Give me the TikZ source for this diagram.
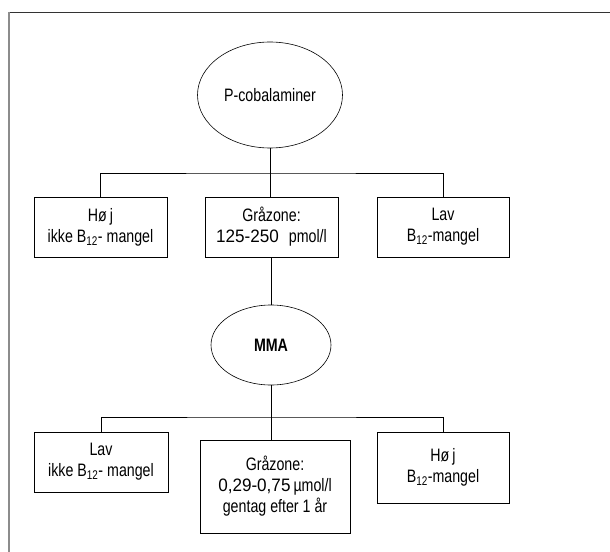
\documentclass[tikz,border=0pt]{standalone}
\usepackage{fontspec}
\setmainfont{Liberation Sans}[FakeStretch=0.79]
\newfontfamily\numfont{Liberation Sans}[FakeStretch=0.95]
\usetikzlibrary{shapes.geometric}
\begin{document}
\begin{tikzpicture}[x=1bp,y=-1bp,
  every node/.style={font=\fontsize{18bp}{21bp}\selectfont, inner sep=0pt, align=center},
  oval/.style={draw, ellipse, line width=0.6pt},
  box/.style={draw, rectangle, line width=0.6pt},
  conn/.style={line width=0.6pt}]
\useasboundingbox (0,0) rectangle (610,552);
\draw[line width=0.8pt, black!80] (9,12.5) -- (611,12.5);
\draw[line width=1.6pt, black!45] (9,12) -- (9,553);
% upper level
\node[oval, minimum width=145bp, minimum height=106bp] (e1) at (270,95) {P-cobalaminer};
\node[box, minimum width=133bp, minimum height=60bp] (b1) at (100.5,227) {Hø\,j\\ikke B\textsubscript{12}- mangel};
\node[box, minimum width=133bp, minimum height=60bp] (b2) at (271.5,227) {Gråzone:\\{\numfont 125-250}\hspace{0.55em}pmol/l};
\node[box, minimum width=132bp, minimum height=60bp] (b3) at (443,227) {Lav\\B\textsubscript{12}-mangel};
\coordinate (j1) at (270,173);
\draw[conn] (e1.south) -- (e1.south |- b2.north);
\draw[conn] (b1.north) |- (j1) -| (b3.north);
% lower level
\node[oval, minimum width=120bp, minimum height=80bp] (e2) at (271,345) {\bfseries MMA};
\draw[conn] (b2.south -| e2.south) -- (e2.north);
\node[box, minimum width=134bp, minimum height=60bp] (c1) at (101,462) {Lav\\ikke B\textsubscript{12}- mangel};
\node[box, minimum width=150bp, minimum height=93bp] (c2) at (275,486.5) {Gråzone:\\{\numfont 0,29-0,75}\,µmol/l\\gentag efter 1 år};
\node[box, minimum width=132bp, minimum height=71bp] (c3) at (443,467.5) {Hø\,j\\B\textsubscript{12}-mangel};
\coordinate (j2) at (271,417);
\draw[conn] (e2.south) -- (e2.south |- c2.north);
\draw[conn] (c1.north) |- (j2) -| (c3.north);
\end{tikzpicture}
\end{document}
